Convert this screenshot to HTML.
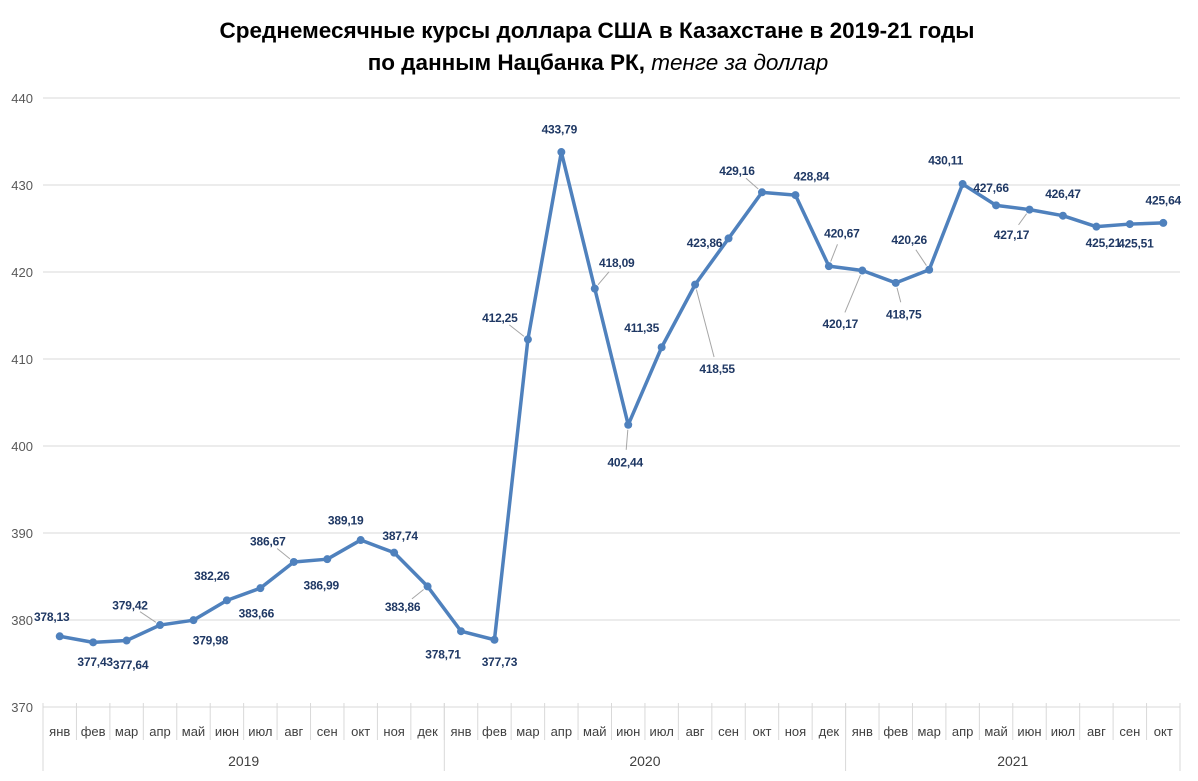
<!DOCTYPE html>
<html><head><meta charset="utf-8">
<style>
body{margin:0;background:#fff;font-family:"Liberation Sans","DejaVu Sans",sans-serif;}
svg{display:block}
</style></head>
<body>
<svg id="chart" width="1198" height="781" viewBox="0 0 1198 781" xmlns="http://www.w3.org/2000/svg">
<text x="597" y="38" text-anchor="middle" font-size="22.5" font-weight="bold" fill="#000">Среднемесячные курсы доллара США в Казахстане в 2019-21 годы</text>
<text x="598" y="70" text-anchor="middle" font-size="22.5" fill="#000"><tspan font-weight="bold">по данным Нацбанка РК, </tspan><tspan font-style="italic">тенге за доллар</tspan></text>
<g id="grid"></g><g id="axes"></g><g id="series"></g><g id="labels"></g>
</svg>
<script>
const months = ["янв","фев","мар","апр","май","июн","июл","авг","сен","окт","ноя","дек","янв","фев","мар","апр","май","июн","июл","авг","сен","окт","ноя","дек","янв","фев","мар","апр","май","июн","июл","авг","сен","окт"];
const years = ["2019","2020","2021"];
const yearCounts = [12,12,10];
const values = [378.13,377.43,377.64,379.42,379.98,382.26,383.66,386.67,386.99,389.19,387.74,383.86,378.71,377.73,412.25,433.79,418.09,402.44,411.35,418.55,423.86,429.16,428.84,420.67,420.17,418.75,420.26,430.11,427.66,427.17,426.47,425.21,425.51,425.64];
const yTicks = [370,380,390,400,410,420,430,440];
// label offsets (dx,dy) of label centre relative to point, presentation only
const labelOffsets = [[-8,-20],[2,19],[4,24],[-30,-20],[17,20],[-15,-25],[-4,25],[-26,-21],[-6,26],[-15,-20],[6,-17],[-25,20],[-18,23],[5,22],[-28,-22],[-2,-23],[22,-26],[-3,37],[-20,-20],[22,84],[-24,4],[-25,-22],[16,-19],[13,-33],[-22,53],[8,31],[-20,-30],[-17,-24],[-5,-18],[-18,25],[0,-22],[7,16],[6,19],[0,-23]];
const NS="http://www.w3.org/2000/svg";
const x0=43,x1=1180,yTop=98,yBot=707,vmin=370,vmax=440;
const cw=(x1-x0)/months.length;
const X=i=>x0+cw*(i+0.5);
const Y=v=>yBot-(v-vmin)/(vmax-vmin)*(yBot-yTop);
function mk(tag,attrs,parent){const e=document.createElementNS(NS,tag);for(const k in attrs)e.setAttribute(k,attrs[k]);document.getElementById(parent).appendChild(e);return e;}
yTicks.forEach(t=>{
  const l=mk('line',{x1:x0,x2:x1,y1:Y(t),y2:Y(t),stroke:'#d9d9d9','stroke-width':1},'grid');
  
  
  const tx=mk('text',{x:33,y:Y(t)+5,'text-anchor':'end','font-size':13,fill:'#595959'},'grid');
  
  
  tx.textContent=t;
});
months.forEach((m,i)=>{
  const l=mk('line',{x1:x0+cw*i,x2:x0+cw*i,y1:703,y2:740,stroke:'#d9d9d9','stroke-width':1},'axes');
  
  
  const t=mk('text',{x:X(i),y:736,'text-anchor':'middle','font-size':13,fill:'#404040'},'axes');
  
  
  t.textContent=m;
});
let start=0;
years.forEach((yr,k)=>{
  const xs=x0+cw*start, xe=x0+cw*(start+yearCounts[k]);
  const l=mk('line',{x1:xs,x2:xs,y1:703,y2:771,stroke:'#d9d9d9','stroke-width':1},'axes');
  
  
  const t=mk('text',{x:(xs+xe)/2,y:766,'text-anchor':'middle','font-size':14,fill:'#404040'},'axes');
  
  
  t.textContent=yr;
  start+=yearCounts[k];
});
const lend=mk('line',{x1:x1,x2:x1,y1:703,y2:771,stroke:'#d9d9d9','stroke-width':1},'axes');


const pts=values.map((v,i)=>X(i)+','+Y(v)).join(' ');
const pl=mk('polyline',{points:pts,fill:'none',stroke:'#4f81bd','stroke-width':3.5,'stroke-linejoin':'round'},'series');


values.forEach((v,i)=>{
  const c=mk('circle',{cx:X(i),cy:Y(v),r:4,fill:'#4f81bd'},'series');
  
  
  const [dx,dy]=labelOffsets[i];
  const px=X(i),py=Y(v),lx=px+dx,ly=py+dy;
  const d=Math.hypot(dx,dy);
  if(d>30){
    const f1=5/d,f2=(d-12)/d;
    const ll=mk('line',{x1:px+dx*f1,y1:py+dy*f1,x2:px+dx*f2,y2:py+dy*f2,stroke:'#a6a6a6','stroke-width':1},'labels');
    
    
  }
  const t=mk('text',{x:lx,y:ly+4.5,'text-anchor':'middle','font-size':12,'font-weight':'bold','letter-spacing':'-0.2',fill:'#1f3864'},'labels');
  
  
  t.textContent=v.toFixed(2).replace('.',',');
});
</script>
</body></html>
